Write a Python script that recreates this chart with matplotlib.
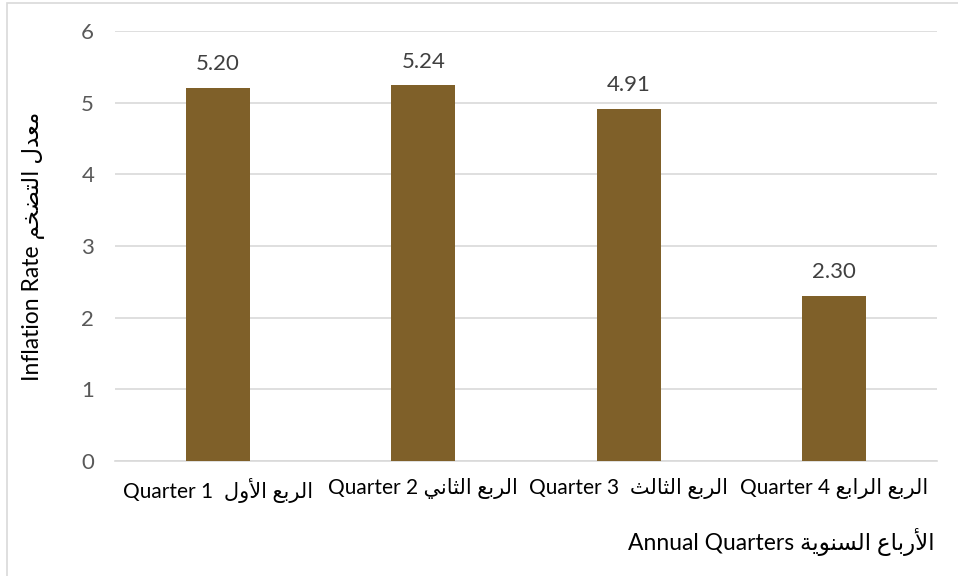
import matplotlib
matplotlib.use("Agg")
import matplotlib.pyplot as plt
from matplotlib.patches import Rectangle

quarters_en = ["Quarter 1", "Quarter 2", "Quarter 3", "Quarter 4"]
quarters_ar = ["الربع الأول", "الربع الثاني", "الربع الثالث", "الربع الرابع"]
values = [5.20, 5.24, 4.91, 2.30]
y_label_en = "Inflation Rate"
y_label_ar = "معدل التضخم"
x_label_en = "Annual Quarters"
x_label_ar = "الأرباع السنوية"
label_gaps = ["  ", " ", "  ", " "]

FORMS = {
    'ا': ('\uFE8D', '\uFE8E', None, None),
    'أ': ('\uFE83', '\uFE84', None, None),
    'ب': ('\uFE8F', '\uFE90', '\uFE91', '\uFE92'),
    'ة': ('\uFE93', '\uFE94', None, None),
    'ت': ('\uFE95', '\uFE96', '\uFE97', '\uFE98'),
    'ث': ('\uFE99', '\uFE9A', '\uFE9B', '\uFE9C'),
    'خ': ('\uFEA5', '\uFEA6', '\uFEA7', '\uFEA8'),
    'د': ('\uFEA9', '\uFEAA', None, None),
    'ر': ('\uFEAD', '\uFEAE', None, None),
    'س': ('\uFEB1', '\uFEB2', '\uFEB3', '\uFEB4'),
    'ض': ('\uFEBD', '\uFEBE', '\uFEBF', '\uFEC0'),
    'ع': ('\uFEC9', '\uFECA', '\uFECB', '\uFECC'),
    'ل': ('\uFEDD', '\uFEDE', '\uFEDF', '\uFEE0'),
    'م': ('\uFEE1', '\uFEE2', '\uFEE3', '\uFEE4'),
    'ن': ('\uFEE5', '\uFEE6', '\uFEE7', '\uFEE8'),
    'و': ('\uFEED', '\uFEEE', None, None),
    'ي': ('\uFEF1', '\uFEF2', '\uFEF3', '\uFEF4'),
    'لا': ('\uFEFB', '\uFEFC', None, None),
    'لأ': ('\uFEF7', '\uFEF8', None, None),
}


def shape(text):
    toks = []
    i = 0
    while i < len(text):
        if text[i] == 'ل' and i + 1 < len(text) and text[i + 1] in 'اأ':
            toks.append(text[i:i + 2])
            i += 2
        else:
            toks.append(text[i])
            i += 1
    out = []
    for k, t in enumerate(toks):
        if t not in FORMS:
            out.append(t)
            continue
        prev = toks[k - 1] if k > 0 else None
        nxt = toks[k + 1] if k + 1 < len(toks) else None
        jp = prev in FORMS and FORMS[prev][2] is not None
        jn = FORMS[t][2] is not None and nxt in FORMS
        f = FORMS[t]
        if jp and jn:
            c = f[3]
        elif jp:
            c = f[1]
        elif jn:
            c = f[2]
        else:
            c = f[0]
        out.append(c)
    return ''.join(reversed(out))


FAM = ['Lato', 'DejaVu Sans']
plt.rcParams['font.family'] = FAM

W, H = 958, 576
fig = plt.figure(figsize=(W / 100, H / 100), dpi=100)
fig.patches.append(Rectangle((7 / W, -0.1), 1.2, (1 - 3 / H) + 0.1, transform=fig.transFigure,
                             fill=False, edgecolor='#D9D9D9', linewidth=1.2))

ax = fig.add_axes([115 / W, 1 - 461 / H, (937 - 115) / W, (461 - 31) / H])
x = list(range(len(values)))
bars = ax.bar(x, values, width=0.31, color='#7F6029', zorder=3)
ax.set_xlim(-0.5, len(values) - 0.5)
ax.set_ylim(0, 6)
ax.set_yticks(range(0, 7))
ax.grid(axis='y', color='#D9D9D9', linewidth=1.2, zorder=0)
for s in ['top', 'right', 'left']:
    ax.spines[s].set_visible(False)
ax.spines['bottom'].set_color('#D9D9D9')
ax.spines['bottom'].set_linewidth(1.2)
ax.tick_params(axis='both', length=0)
ax.tick_params(axis='y', labelsize=16, labelcolor='#595959', pad=15)
ax.set_xticks(x)
ax.set_xticklabels([f"{en}{g}{shape(ar)}" for en, g, ar in zip(quarters_en, label_gaps, quarters_ar)],
                   fontsize=15, color='#000000')
ax.tick_params(axis='x', pad=12)

for b, v in zip(bars, values):
    ax.annotate(f"{v:.2f}", (b.get_x() + b.get_width() / 2, v), xytext=(0, 10),
                textcoords='offset points', ha='center', va='bottom', fontsize=16, color='#404040')

ax.set_ylabel(f"{y_label_en} {shape(y_label_ar)}", fontsize=16.5, color='#000000')
ax.yaxis.set_label_coords(-(115 - 44) / (937 - 115), 0.5)
fig.text(935 / W, 1 - 542 / H, f"{x_label_en} {shape(x_label_ar)}", ha='right', va='center',
         fontsize=16.5, color='#000000')

fig.savefig("out.png", dpi=100)
